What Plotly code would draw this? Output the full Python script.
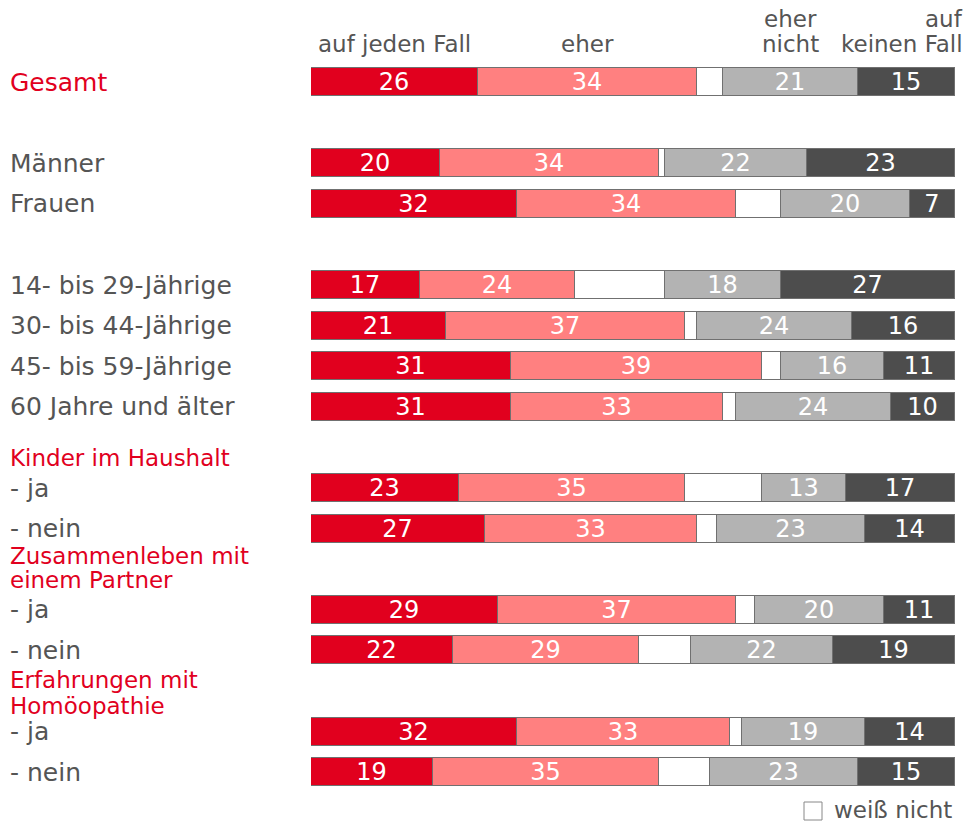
import plotly.graph_objects as go

# --- data -------------------------------------------------------------
categories = ["Gesamt", "Männer", "Frauen",
              "14- bis 29-Jährige", "30- bis 44-Jährige",
              "45- bis 59-Jährige", "60 Jahre und älter",
              "- ja", "- nein", "- ja", "- nein", "- ja", "- nein"]
row_pos = [0, 2, 3, 5, 6, 7, 8, 10, 11, 13, 14, 16, 17]

auf_jeden_fall = [26, 20, 32, 17, 21, 31, 31, 23, 27, 29, 22, 32, 19]
eher = [34, 34, 34, 24, 37, 39, 33, 35, 33, 37, 29, 33, 35]
weiss_nicht = [4, 1, 7, 14, 2, 3, 2, 12, 3, 3, 8, 2, 8]
eher_nicht = [21, 22, 20, 18, 24, 16, 24, 13, 23, 20, 22, 19, 23]
auf_keinen_fall = [15, 23, 7, 27, 16, 11, 10, 17, 14, 11, 19, 14, 15]

# group headings (text lines, row position)
group_headers = [("Kinder im Haushalt", 9.26),
                 ("Zusammenleben mit", 11.68), ("einem Partner", 12.27),
                 ("Erfahrungen mit", 14.73), ("Homöopathie", 15.36)]

# --- layout constants ---------------------------------------------------
W, H = 966, 824
ML, MR, MT, MB = 311, 11, 60, 30
RED = "#E1001E"
PINK = "#FF8080"
LGRAY = "#B3B3B3"
DGRAY = "#4D4D4D"
TXT = "#555555"
EDGE = "#707070"
FONT = "DejaVu Sans, Verdana, sans-serif"


def px_x(px):
    return (px - ML) / (W - ML - MR)


def px_y(px):
    return (H - MB - px) / (H - MT - MB)


series = [
    ("auf jeden Fall", auf_jeden_fall, RED, True),
    ("eher", eher, PINK, True),
    ("weiß nicht", weiss_nicht, "#FFFFFF", False),
    ("eher nicht", eher_nicht, LGRAY, True),
    ("auf keinen Fall", auf_keinen_fall, DGRAY, True),
]

fig = go.Figure()
for name, vals, color, labelled in series:
    fig.add_trace(go.Bar(
        x=vals, y=row_pos, orientation="h", name=name,
        width=0.69,
        marker=dict(color=color, line=dict(color=EDGE, width=1)),
        texttemplate="%{x}" if labelled else None,
        textposition="inside" if labelled else "none",
        insidetextanchor="middle",
        constraintext="none",
        textangle=0,
        textfont=dict(color="white", size=24, family=FONT),
        showlegend=False,
        hoverinfo="x+name",
    ))

annotations = []
# row labels on the left
for cat, r in zip(categories, row_pos):
    annotations.append(dict(
        x=px_x(8), xref="paper", y=r, yref="y", text=cat,
        xanchor="left", yanchor="middle", showarrow=False,
        font=dict(size=25, color=RED if cat == "Gesamt" else TXT, family=FONT)))
for txt, r in group_headers:
    annotations.append(dict(
        x=px_x(8), xref="paper", y=r, yref="y", text=txt,
        xanchor="left", yanchor="middle", showarrow=False,
        font=dict(size=23, color=RED, family=FONT)))

# column headings above the first bar
c1 = auf_jeden_fall[0] / 2
c2 = auf_jeden_fall[0] + eher[0] / 2
c4 = auf_jeden_fall[0] + eher[0] + weiss_nicht[0] + eher_nicht[0] / 2
head_font = dict(size=23, color=TXT, family=FONT)
line2, line1 = px_y(44), px_y(19)
for txt, xv, yv in [("auf jeden Fall", c1, line2), ("eher", c2, line2),
                    ("eher", c4, line1), ("nicht", c4, line2)]:
    annotations.append(dict(x=xv, xref="x", y=yv, yref="paper", text=txt,
                            xanchor="center", yanchor="middle",
                            showarrow=False, font=head_font))
for txt, yv in [("auf", line1), ("keinen Fall", line2)]:
    annotations.append(dict(x=px_x(965), xref="paper", y=yv, yref="paper",
                            text=txt, xanchor="right", yanchor="middle",
                            showarrow=False, font=head_font))
# legend entry
annotations.append(dict(x=px_x(832), xref="paper", y=px_y(810), yref="paper",
                        text="weiß nicht", xanchor="left", yanchor="middle",
                        showarrow=False, font=head_font))

fig.update_layout(
    width=W, height=H,
    margin=dict(l=ML, r=MR, t=MT, b=MB),
    barmode="stack",
    bargap=0,
    plot_bgcolor="white",
    paper_bgcolor="white",
    font=dict(family=FONT, color=TXT),
    xaxis=dict(range=[0, 100], visible=False, fixedrange=True),
    yaxis=dict(range=[17.537, -0.542], visible=False, fixedrange=True),
    annotations=annotations,
    shapes=[dict(type="rect", xref="paper", yref="paper",
                 x0=px_x(804), x1=px_x(822), y0=px_y(820), y1=px_y(802),
                 line=dict(color="#888888", width=1), fillcolor="white")],
)

fig.write_html("out.html", config={"displayModeBar": False},
               post_script="document.body.style.margin='0';")
